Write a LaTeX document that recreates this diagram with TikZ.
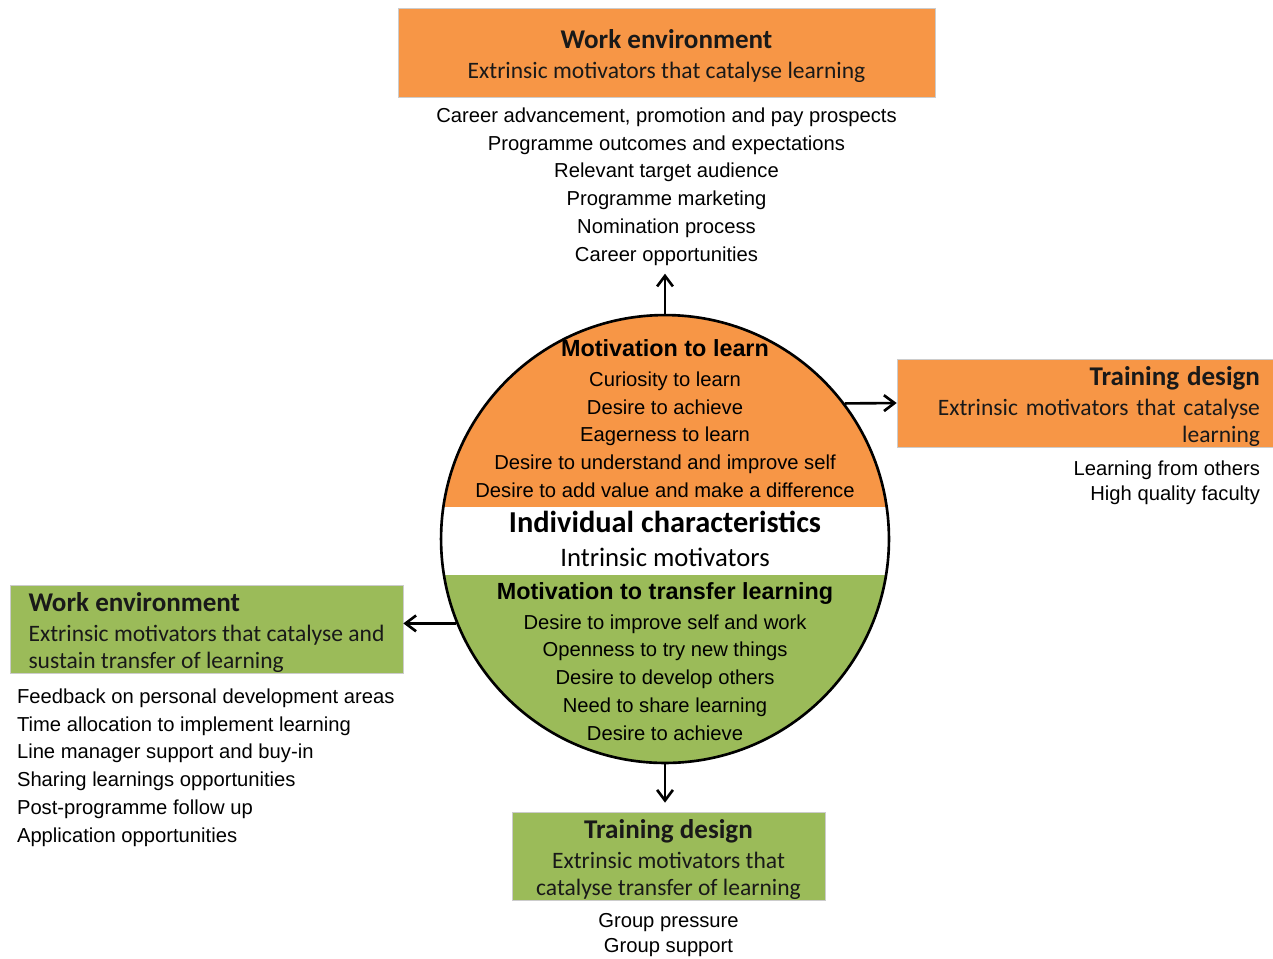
\documentclass[tikz,border=0pt]{standalone}
\usepackage{fontspec}
\setmainfont{Liberation Sans}
\newfontfamily\calibri{Carlito}
\usepackage{tikz}
\usetikzlibrary{arrows.meta, positioning}
\definecolor{orng}{HTML}{F79646}
\definecolor{grn}{HTML}{9BBB59}
\newcommand{\boxtitle}[1]{{\bfseries\fontsize{15.4}{15.9}\selectfont\rule{0pt}{15pt}#1}}

\begin{document}
\begin{tikzpicture}[x=0.02cm, y=-0.02cm]
\tikzstyle{box} = [rectangle, draw=black!20, inner sep=0pt, text=black!90, font=\calibri\fontsize{13.4}{15.9}\selectfont]
\tikzstyle{list} = [inner sep=0pt, font=\fontsize{11.5}{15.8}\selectfont]
\tikzstyle{arr} = [line width=1.5pt, -{Straight Barb[length=6pt, width=9pt]}]

\useasboundingbox (0,0) rectangle (1273,958);

% extrinsic motivators
\node (topbox) [box, fill=orng, minimum width=10.74cm, minimum height=1.78cm, align=center] at (666.5,52.5)
  {\boxtitle{Work environment}\\[1pt]Extrinsic motivators that catalyse learning};
\node (rbox) [box, fill=orng, text width=7.0cm, minimum height=1.76cm, inner xsep=0.26cm, align=right] at (1085,403)
  {\boxtitle{Training design}\\[1pt]Extrinsic motivators that catalyse\\learning};
\node (lbox) [box, fill=grn, minimum width=7.86cm, minimum height=1.72cm, align=left] at (206.5,629)
  {\boxtitle{Work environment}\\[1pt]Extrinsic motivators that catalyse and\\sustain transfer of learning};
\node (bbox) [box, fill=grn, minimum width=6.26cm, minimum height=1.76cm, align=center] at (668.5,856)
  {\boxtitle{Training design}\\[1pt]Extrinsic motivators that\\catalyse transfer of learning};

\node (toplist) [list, align=center, below=0.2cm of topbox]
  {Career advancement, promotion and pay prospects\\Programme outcomes and expectations\\Relevant target audience\\Programme marketing\\Nomination process\\Career opportunities};
\node (rlist) [list, align=right, font=\fontsize{11.5}{14.2}\selectfont, below=0.26cm of rbox.south east, anchor=north east, xshift=-0.26cm]
  {Learning from others\\High quality faculty};
\node (llist) [list, align=left, below=0.3cm of lbox.south west, anchor=north west, xshift=0.14cm]
  {Feedback on personal development areas\\Time allocation to implement learning\\Line manager support and buy-in\\Sharing learnings opportunities\\Post-programme follow up\\Application opportunities};
\node (blist) [list, align=center, font=\fontsize{11.5}{14.2}\selectfont, below=0.26cm of bbox]
  {Group pressure\\Group support};

% intrinsic motivators
\begin{scope}
\clip (665,539) circle (4.48cm);
\fill [orng] (400,300) rectangle (930,507);
\fill [grn] (400,575) rectangle (930,780);
\end{scope}
\node (circ) [circle, draw, line width=1.5pt, minimum size=8.96cm] at (665,539) {};

\node (motlearn) [list, align=center, below=0.5cm of circ.north]
  {{\bfseries\fontsize{13.3}{15.9}\selectfont Motivation to learn}\\[1.5pt]Curiosity to learn\\Desire to achieve\\Eagerness to learn\\Desire to understand and improve self\\Desire to add value and make a difference};
\node (indiv) [list, align=center, font=\calibri\fontsize{15.2}{19}\selectfont] at (circ)
  {{\bfseries\fontsize{17.3}{19}\selectfont Individual characteristics}\\Intrinsic motivators};
\node (mottrans) [list, align=center, below=0.31cm of indiv]
  {{\bfseries\fontsize{13.3}{15.9}\selectfont Motivation to transfer learning}\\[1pt]Desire to improve self and work\\Openness to try new things\\Desire to develop others\\Need to share learning\\Desire to achieve};

\draw [arr, shorten >=0.16cm] (circ.north) -- (circ.north |- toplist.south);
\draw [arr] (circ.37.7) -- (rbox.west);
\draw [arr] (circ.202) -- (circ.202 -| lbox.east);
\draw [arr, shorten >=0.18cm] (circ.south) -- (circ.south |- bbox.north);
\end{tikzpicture}
\end{document}
